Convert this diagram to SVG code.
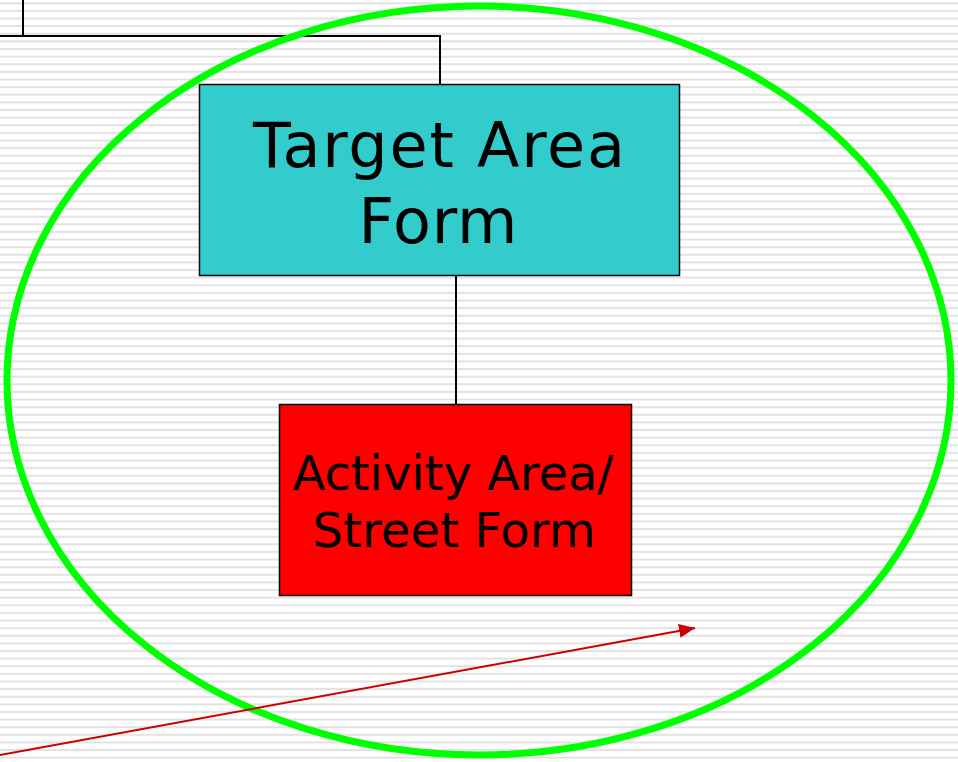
<svg xmlns="http://www.w3.org/2000/svg" width="958" height="762" viewBox="0 0 958 762">
<defs>
<pattern id="stripes" x="0" y="2.3" width="958" height="7.62" patternUnits="userSpaceOnUse">
<rect x="0" y="0" width="958" height="2" fill="#e2e2e2"/>
</pattern>
<marker id="ah" viewBox="0 0 16 14" refX="16" refY="7" markerWidth="16" markerHeight="14" markerUnits="userSpaceOnUse" orient="auto">
<path d="M0,0 L16,7 L0,14 z" fill="#cc0000"/>
</marker>
</defs>
<style>
.conn{stroke:#000;stroke-width:2;fill:none}
.box{stroke:#000;stroke-width:1.5}
.lbl{font-family:"DejaVu Sans","Verdana",sans-serif;fill:#000;text-anchor:middle}
</style>
<rect width="958" height="762" fill="#ffffff"/>
<rect width="958" height="762" fill="url(#stripes)"/>
<g id="connectors">
<path class="conn" d="M23,0 V36 M0,36 H440 V84"/>
<path class="conn" d="M456,276 V404"/>
</g>
<g id="target-area-form">
<rect class="box" x="199.5" y="84.5" width="480" height="191" fill="#33cccc"/>
<text class="lbl" x="439" y="167" font-size="62" textLength="372" lengthAdjust="spacing">Target Area</text>
<text class="lbl" x="438" y="243" font-size="62" textLength="159" lengthAdjust="spacing">Form</text>
</g>
<g id="activity-area-street-form">
<rect class="box" x="279.5" y="404.5" width="352" height="191" fill="#ff0000"/>
<text class="lbl" x="453" y="490" font-size="48" textLength="321" lengthAdjust="spacing">Activity Area/</text>
<text class="lbl" x="454" y="547" font-size="48" textLength="283" lengthAdjust="spacing">Street Form</text>
</g>
<g id="highlight-ellipse">
<ellipse cx="479" cy="380.5" rx="472" ry="374.5" fill="none" stroke="#00ff00" stroke-width="7"/>
</g>
<g id="pointer-arrow">
<line x1="0" y1="755" x2="695" y2="628" stroke="#cc0000" stroke-width="2" marker-end="url(#ah)"/>
</g>
</svg>
